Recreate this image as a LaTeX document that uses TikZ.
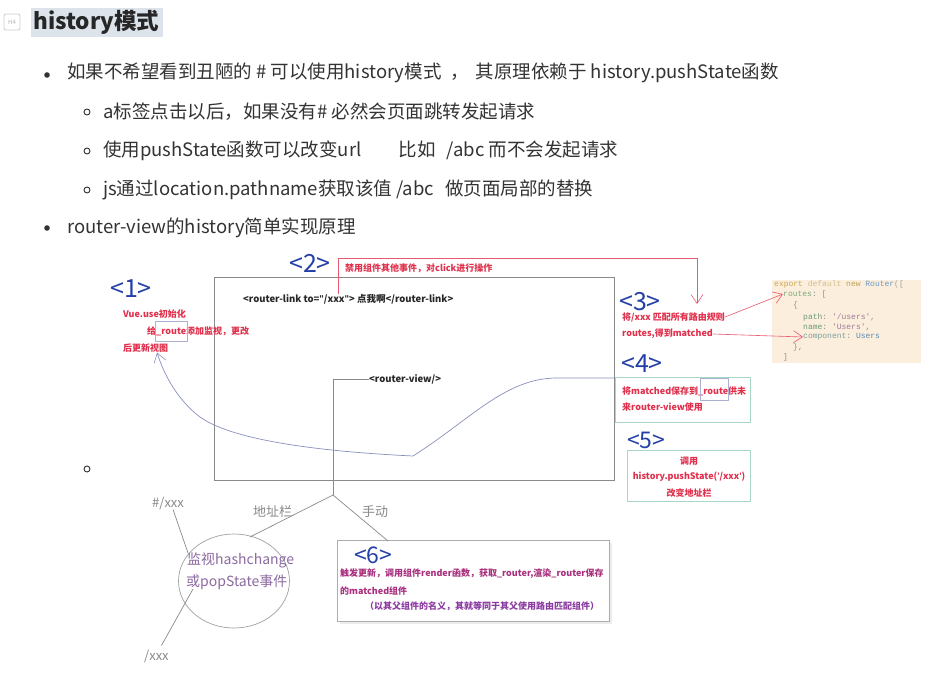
\documentclass[tikz,border=0pt]{standalone}
\usepackage{fontspec}
\setmainfont{Noto Sans CJK SC}
\setmonofont{Liberation Mono}
\newfontfamily\latf{Open Sans}
\usetikzlibrary{arrows.meta,shapes.geometric}
\definecolor{textgray}{HTML}{333333}
\definecolor{labblue}{HTML}{2440A8}
\definecolor{redtext}{HTML}{E0304C}
\definecolor{purptext}{HTML}{A8307E}
\definecolor{purp2}{HTML}{8A3AA0}
\definecolor{ellgray}{HTML}{8C6AA0}
\definecolor{linegray}{HTML}{8A8A8A}
\definecolor{curveblue}{HTML}{8890C0}
\definecolor{greenbox}{HTML}{A8D8C4}
\definecolor{codebg}{HTML}{FBEEDC}
\definecolor{hlbg}{HTML}{DDE3EA}
\begin{document}
\begin{tikzpicture}[x=1pt,y=-1pt,
  t/.style={anchor=west,inner sep=0pt,text=textgray,font=\fontsize{18.5}{21}\selectfont},
  lab/.style={anchor=west,inner sep=0pt,text=labblue,font=\fontsize{25}{27}\selectfont},
  rt/.style={anchor=west,inner sep=0pt,text=redtext,font=\fontsize{9}{10}\selectfont\bfseries},
  pt6/.style={anchor=west,inner sep=0pt,text=purptext,font=\fontsize{9}{10}\selectfont\bfseries},
  bt/.style={anchor=west,inner sep=0pt,text=black!85,font=\fontsize{9.5}{11}\selectfont\bfseries},
  gt/.style={anchor=west,inner sep=0pt,text=linegray,font=\fontsize{13}{15}\selectfont},
  et/.style={anchor=west,inner sep=0pt,text=ellgray,font=\fontsize{14}{16}\selectfont},
  code/.style={anchor=west,inner sep=0pt,font=\fontsize{8}{9}\selectfont\ttfamily},
  gline/.style={draw=linegray,line width=0.7pt},
  rline/.style={draw=redtext!80,line width=0.6pt},
  rarrow/.style={rline,-{Straight Barb[length=9pt,width=12pt,line width=0.6pt]}},
  gbox/.style={draw=greenbox,line width=0.8pt},
  dotb/.style={fill=textgray},
  ring/.style={draw=textgray,line width=0.9pt}
]
\useasboundingbox (0,0) rectangle (938,691);
\fill[white] (0,0) rectangle (938,691);

% heading
\draw[black!20,rounded corners=2pt,line width=0.8pt] (4,14) rectangle (20,30);
\node[inner sep=0pt,text=black!30,font=\fontsize{6}{7}\selectfont] (hicon) at (12,22) {H4};
\fill[hlbg] (31,8) rectangle (163,37);
\node[anchor=west,inner sep=0pt,text=black!85,font=\fontsize{22.5}{24}\selectfont\bfseries] (head) at (33,22) {history模式};

% bullets
\fill[dotb] (47,75) circle (2.8);
\node[t] (b1) at (67,73) {如果不希望看到丑陋的 \# 可以使用history模式\hspace{0.5em}，\hspace{0.35em}其原理依赖于 history.pushState函数};
\draw[ring] (87,112) circle (3);
\node[t] (s1) at (103,112) {a标签点击以后，如果没有\# 必然会页面跳转发起请求};
\draw[ring] (87,151) circle (3);
\node[t] (s2) at (103,151) {使用pushState函数可以改变url\hspace{2em}比如\hspace{0.6em}/abc 而不会发起请求};
\draw[ring] (87,190) circle (3);
\node[t] (s3) at (103,190) {js通过location.pathname获取该值 /abc\hspace{0.6em}做页面局部的替换};
\fill[dotb] (47,228) circle (2.8);
\node[t] (b2) at (67,228) {router-view的history简单实现原理};
\draw[ring] (87,469) circle (3);

% main frame
\draw[gline] (214,277) rectangle (614,480);
\node[bt] (rlink) at (243,299) {<router-link to={\latf"}/xxx{\latf"}> 点我啊</router-link>};
\node[bt] (rview) at (369,379) {<router-view/>};

% labels
\node[lab] (l1) at (110,289) {<1>};
\node[lab] (l2) at (289,263) {<2>};
\node[lab] (l3) at (619,302) {<3>};
\node[lab] (l4) at (621,364) {<4>};
\node[lab,font=\fontsize{23}{25}\selectfont] (l5) at (627,440) {<5>};

% <1> text
\node[rt] (t1a) at (123,314) {Vue.use初始化};
\node[rt] (t1b) at (147,331) {给\_route添加监视，更改};
\node[rt] (t1c) at (123,348) {后更新视图};
\draw[draw=curveblue!70,line width=0.6pt] (155,321) rectangle (187,341);

% <2> text and red connector
\node[rt] (t2) at (345,268) {禁用组件其他事件，对click进行操作};
\coordinate (c2s) at (338,294);
\coordinate (c2e) at (697,304);
\draw[rarrow] (c2s) -- (338,258) -- (697,258) -- (c2e);

% <3> text
\node[rt] (t3a) at (622,317) {将/xxx 匹配所有路由规则};
\node[rt] (t3b) at (622,334) {routes,得到matched};

% code box
\fill[codebg] (772,280) rectangle (921,363);
\node[code] (k1) at (774,284) {\textcolor[HTML]{C8A850}{export} \textcolor[HTML]{D0C090}{default} \textcolor[HTML]{C0A050}{new} \textcolor[HTML]{6A98C8}{Router}\textcolor[HTML]{A0A0A0}{([}};
\node[code] (k2) at (783,294) {\textcolor[HTML]{7AAA7A}{routes}\textcolor[HTML]{909090}{: [}};
\node[code] (k3) at (793,305) {\textcolor[HTML]{909090}{\{}};
\node[code] (k4) at (803,317) {\textcolor[HTML]{6A9A7A}{path}\textcolor[HTML]{909090}{: }\textcolor[HTML]{A07A9A}{'/users'}\textcolor[HTML]{909090}{,}};
\node[code] (k5) at (803,327) {\textcolor[HTML]{6A9A7A}{name}\textcolor[HTML]{909090}{: }\textcolor[HTML]{A07A9A}{'Users'}\textcolor[HTML]{909090}{,}};
\node[code] (k6) at (803,337) {\textcolor[HTML]{7AA0A0}{component}\textcolor[HTML]{909090}{: }\textcolor[HTML]{5A88B8}{Users}};
\node[code] (k7) at (793,347) {\textcolor[HTML]{909090}{\},}};
\node[code] (k8) at (783,357) {\textcolor[HTML]{909090}{]}};
\draw[rarrow] (t3a.east) -- (k2.west);
\draw[rarrow] (t3b.east) -- (k6.west);

% <4> box
\draw[gbox] (615,377) rectangle (750,422);
\node[rt] (t4a) at (622,391) {将matched保存到\_route供未};
\node[rt] (t4b) at (622,407) {来router-view使用};
\draw[draw=curveblue!70,line width=0.6pt] (700,378) rectangle (728,400);

% <5> box
\draw[gbox] (627,450) rectangle (750,501);
\node[rt,anchor=center] (t5a) at (689,461) {调用};
\node[rt,anchor=center] (t5b) at (689,477) {history.pushState({\latf'}/xxx{\latf'})};
\node[rt,anchor=center] (t5c) at (689,493) {改变地址栏};

% blue-gray curve from <4> back to <1>
\draw[draw=curveblue,line width=0.7pt,-{Straight Barb[length=9pt,width=12pt,line width=0.6pt]}]
  (614,378) -- (557,378) .. controls (505,378) and (470,420) .. (413,456)
  .. controls (330,452) and (235,442) .. (200,417)
  .. controls (180,402) and (165,378) .. (t1c.south -| 157,0);

% tree below router-view
\coordinate (fork) at (333,495);
\draw[gline] (rview.west) -- (333,379) -- (fork);
\node[draw=linegray!80,line width=0.7pt,ellipse,minimum width=111pt,minimum height=94pt,inner sep=0pt] (ell) at (234,581) {};
\draw[gline] (fork) -- (250,537);
\node[gt] (addr) at (253,512) {地址栏};
\node[gt] (manual) at (362,512) {手动};
\node[et] (e1) at (187,560) {监视hashchange};
\node[et] (e2) at (186,582) {或popState事件};
\node[gt] (hx) at (152,503) {\#/xxx};
\node[gt] (px) at (144,656) {/xxx};
\draw[gline] (hx.south) ++(5,0) -- (188,553);
\draw[gline] (px.north) ++(5,-4) -- (193,589);

% <6> box
\fill[black!8] (340,543) rectangle (612,624);
\fill[white] (337,540) rectangle (609,621);
\draw[draw=linegray!70,line width=0.6pt] (337,540) rectangle (609,621);
\draw[gline] (fork) -- (388,541);
\node[lab,font=\fontsize{23}{25}\selectfont] (l6) at (354,555) {<6>};
\node[pt6] (t6a) at (340,574) {触发更新，调用组件render函数，获取\_router,渲染\_router保存};
\node[pt6] (t6b) at (340,591) {的matched组件};
\node[pt6,text=purp2] (t6c) at (365,606) {（以其父组件的名义，其就等同于其父使用路由匹配组件）};
\end{tikzpicture}
\end{document}
